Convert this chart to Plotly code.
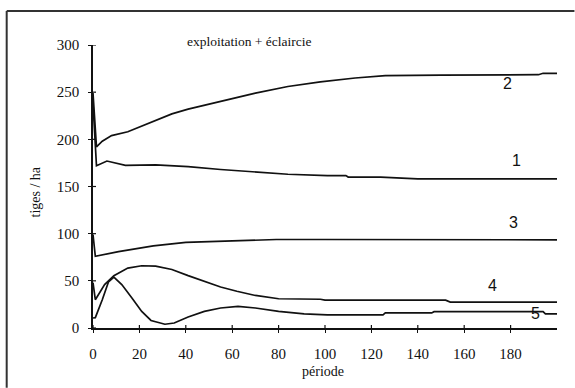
import plotly.graph_objects as go

# ---- data ----
p1 = [0, 1.5, 6, 14, 27, 41, 55, 70, 84, 101, 109, 110, 124, 140, 200]
v1 = [238, 172, 177, 172.5, 173, 171, 168, 165, 163, 161.5, 161.5, 160, 160, 158, 158]

p2 = [0, 1.5, 4, 8, 15, 25, 34, 41, 55, 70, 84, 98, 113, 126, 150, 192, 194, 200]
v2 = [249, 192, 198, 204, 208, 218, 227, 232, 240, 249, 256, 261, 265, 267.5, 268, 268.5, 270, 270]

p3 = [0, 1, 11, 26, 40, 54, 79, 100, 200]
v3 = [99, 76, 81, 87, 90.7, 92, 93.8, 93.8, 93.5]

p4 = [0, 1, 5, 9, 15, 21, 27, 34, 41, 48, 55, 62, 70, 80, 98, 100, 152, 154, 200]
v4 = [48, 30, 46, 55.5, 63.5, 66, 65.5, 62, 55.5, 49.5, 43.5, 39, 34.5, 31, 30.5, 29.5, 29.5, 27.5, 27.5]

p5 = [0, 1, 4, 6.7, 9, 12.4, 16.7, 21, 25, 31, 35, 41, 48, 55, 62.5, 70, 80, 91, 101,
      125, 126, 146, 147, 194, 195, 200]
v5 = [10.6, 11, 30, 49, 54, 46, 32, 17.6, 8, 4, 5.3, 11.6, 17.6, 21.2, 23, 21.2, 17.6, 15, 14,
      14, 16, 16, 17.3, 17.3, 15, 15]

series = [(p1, v1), (p2, v2), (p3, v3), (p4, v4), (p5, v5)]
series_names = ["1", "2", "3", "4", "5"]
label_pos = [(182.5, 177.5), (178.8, 259.5), (181.4, 111.9), (172.1, 44.8), (190.8, 15.1)]

x_ticks = [0, 20, 40, 60, 80, 100, 120, 140, 160, 180]
y_ticks = [0, 50, 100, 150, 200, 250, 300]

title_text = "exploitation + éclaircie"
x_title = "période"
y_title = "tiges / ha"

SERIF = "Liberation Serif"
SANS = "Liberation Sans"
INK = "#111111"

fig = go.Figure()
for (px, pv), nm in zip(series, series_names):
    fig.add_trace(go.Scatter(x=px, y=pv, mode="lines", name=nm,
                             line=dict(color=INK, width=1.7),
                             showlegend=False, hoverinfo="skip"))

for (lx, ly), nm in zip(label_pos, series_names):
    fig.add_annotation(x=lx, y=ly, xref="x", yref="y", text=nm, showarrow=False,
                       xanchor="center", yanchor="middle",
                       font=dict(family=SANS, size=16, color=INK))

fig.add_annotation(x=0.337, y=1.014, xref="paper", yref="paper", text=title_text,
                   showarrow=False, xanchor="center", yanchor="middle",
                   font=dict(family=SERIF, size=13.5, color=INK))
fig.add_annotation(x=0.4957, y=-0.153, xref="paper", yref="paper", text=x_title,
                   showarrow=False, xanchor="center", yanchor="middle",
                   font=dict(family=SERIF, size=14, color=INK))
fig.add_annotation(x=-0.1237, y=0.481, xref="paper", yref="paper", text=y_title,
                   textangle=-90, showarrow=False, xanchor="center", yanchor="middle",
                   font=dict(family=SERIF, size=14, color=INK))

# outer frame: left and top edges (right and bottom run off the page)
fig.add_shape(type="line", xref="paper", yref="paper", x0=-0.186, y0=-0.211, x1=-0.186, y1=1.12,
              line=dict(color="#333333", width=2))
fig.add_shape(type="line", xref="paper", yref="paper", x0=-0.186, y0=1.12, x1=1.0376, y1=1.12,
              line=dict(color="#333333", width=2))

# crossing ticks: outside part from the axis, inside part drawn as short segments
for t in x_ticks:
    fig.add_shape(type="line", xref="x", yref="paper", x0=t, x1=t, y0=0, y1=0.0106,
                  line=dict(color=INK, width=1.2))
for t in y_ticks:
    fig.add_shape(type="line", xref="paper", yref="y", x0=0, x1=0.0065, y0=t, y1=t,
                  line=dict(color=INK, width=1.2))

axis_common = dict(showgrid=False, zeroline=False)
fig.update_layout(
    width=575, height=388,
    margin=dict(l=92.5, r=17.5, t=45, b=59.7),
    paper_bgcolor="white", plot_bgcolor="white",
    xaxis=dict(range=[0, 200], tickvals=x_ticks, showline=True, linecolor=INK,
               linewidth=1.5, ticks="outside", ticklen=3, tickcolor=INK,
               tickwidth=1.2, ticklabelstandoff=8,
               tickfont=dict(family=SERIF, size=15, color=INK), **axis_common),
    yaxis=dict(range=[0, 300], tickvals=y_ticks, showline=True, linecolor=INK,
               linewidth=1.5, ticks="outside", ticklen=3, tickcolor=INK,
               tickwidth=1.2, ticklabelstandoff=6,
               tickfont=dict(family=SERIF, size=15, color=INK), **axis_common),
)

fig.write_html("out.html", config={"displayModeBar": False},
               post_script="document.documentElement.style.overflow='hidden';"
                           "document.body.style.overflow='hidden';"
                           "document.body.style.margin='0';")
